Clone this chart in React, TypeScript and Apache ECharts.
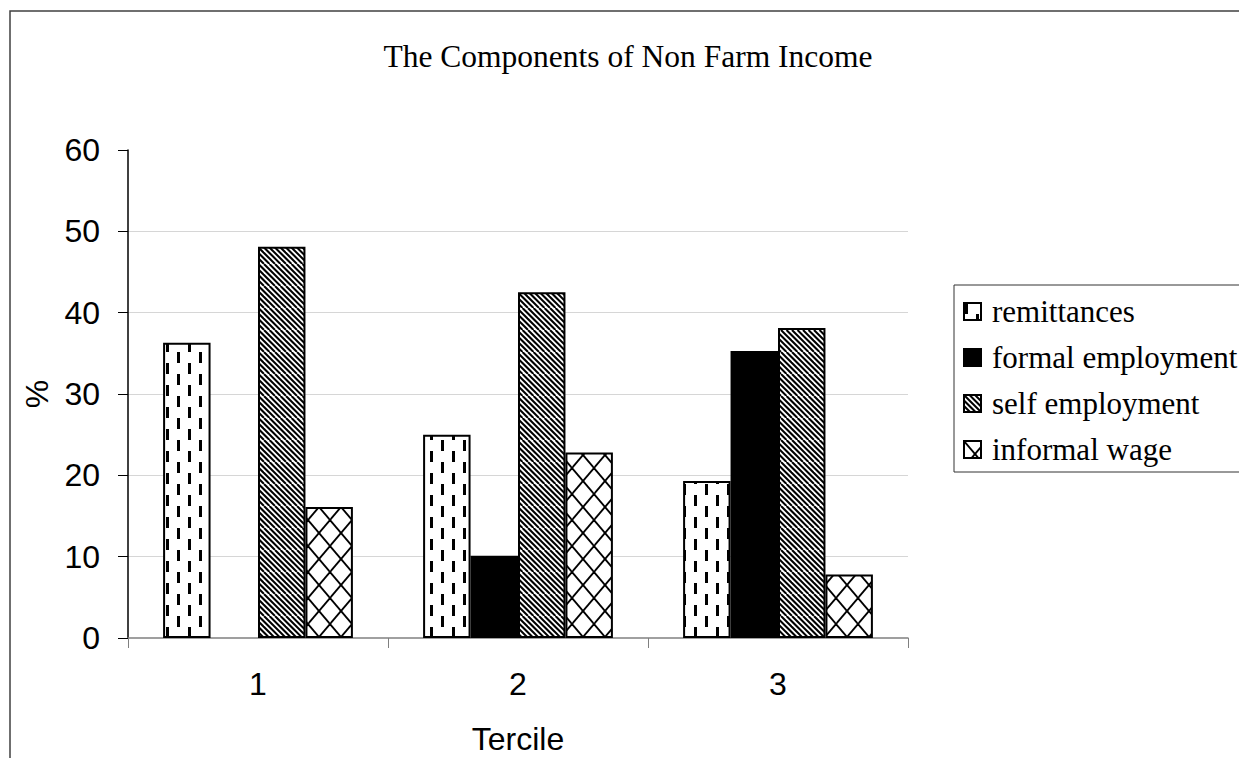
import React, { useEffect, useRef } from "react";
import * as echarts from "echarts";

// Chart data
const terciles = ["1", "2", "3"];
const seriesNames = ["remittances", "formal employment", "self employment", "informal wage"];
const remittances = [36.3, 25.0, 19.3];
const formalEmployment = [0, 10.1, 35.3];
const selfEmployment = [48.1, 42.5, 38.1];
const informalWage = [16.1, 22.8, 7.8];
const yTicks = { min: 0, max: 60, interval: 10 };

const SERIF = "'Liberation Serif', 'Times New Roman', serif";
const SANS = "'Liberation Sans', Arial, sans-serif";

type Ctx = CanvasRenderingContext2D;

// Build a repeating black-on-white fill tile
function makePattern(draw: (ctx: Ctx) => void, w = 22, h = 22) {
  const c = document.createElement("canvas");
  c.width = w;
  c.height = h;
  const ctx = c.getContext("2d") as Ctx;
  ctx.fillStyle = "#fff";
  ctx.fillRect(0, 0, w, h);
  ctx.fillStyle = "#000";
  ctx.strokeStyle = "#000";
  draw(ctx);
  return { image: c, repeat: "repeat" as const };
}

function dashedVertical() {
  return makePattern((ctx) => {
    ctx.fillRect(1, 0, 3, 11);
    ctx.fillRect(12, 11, 3, 11);
  });
}

function downwardDiagonal() {
  return makePattern((ctx) => {
    ctx.lineWidth = 2;
    for (let k = -5; k <= 5; k++) {
      const o = k * 5.5;
      ctx.beginPath();
      ctx.moveTo(o, 0);
      ctx.lineTo(o + 22, 22);
      ctx.stroke();
    }
  });
}

function outlinedDiamond() {
  const w = 22;
  const h = 26;
  return makePattern(
    (ctx) => {
      ctx.lineWidth = 1.8;
      for (const o of [-w, 0, w]) {
        ctx.beginPath();
        ctx.moveTo(o, 0);
        ctx.lineTo(o + w, h);
        ctx.stroke();
        ctx.beginPath();
        ctx.moveTo(o, h);
        ctx.lineTo(o + w, 0);
        ctx.stroke();
      }
    },
    w,
    h
  );
}

export default function App() {
  const ref = useRef<HTMLDivElement>(null);

  useEffect(() => {
    if (!ref.current) return;
    const chart = echarts.init(ref.current, undefined, { renderer: "svg" });

    const fills: any[] = [dashedVertical(), "#000", downwardDiagonal(), outlinedDiamond()];
    const values = [remittances, formalEmployment, selfEmployment, informalWage];

    const series = seriesNames.map((name, i) => ({
      name,
      type: "bar",
      barGap: "0%",
      barCategoryGap: "27%",
      itemStyle: { color: fills[i], borderColor: "#000", borderWidth: 2 },
      emphasis: { disabled: true },
      data: values[i].map((v) => (v === 0 ? { value: v, itemStyle: { borderWidth: 0 } } : v)),
    }));

    chart.setOption({
      animation: false,
      backgroundColor: "#fff",
      title: {
        text: "The Components of Non Farm Income",
        left: 628,
        top: 40,
        padding: 0,
        textAlign: "center",
        textStyle: { fontFamily: SERIF, fontSize: 31.5, fontWeight: "normal", color: "#000" },
      },
      legend: {
        orient: "vertical",
        left: 954,
        top: 285,
        padding: [11, 30, 7, 9],
        itemGap: 15,
        itemWidth: 17,
        itemHeight: 17,
        icon: "rect",
        borderColor: "#333",
        borderWidth: 1,
        selectedMode: false,
        data: seriesNames,
        textStyle: { fontFamily: SERIF, fontSize: 31, color: "#000", padding: [0, 0, 0, 6] },
      },
      grid: { left: 128, right: 331, top: 150, bottom: 120, containLabel: false, outerBoundsMode: "none" },
      xAxis: {
        type: "category",
        data: terciles,
        boundaryGap: true,
        name: "Tercile",
        nameLocation: "middle",
        nameGap: 85,
        nameMoveOverlap: false,
        nameTextStyle: { fontFamily: SANS, fontSize: 32, color: "#000" },
        axisLine: { show: true, lineStyle: { color: "#808080", width: 1.5 } },
        axisTick: { show: true, inside: false, length: 10, lineStyle: { color: "#808080", width: 1 } },
        axisLabel: { margin: 30, fontFamily: SANS, fontSize: 32, color: "#000" },
        splitLine: { show: false },
      },
      yAxis: {
        type: "value",
        min: yTicks.min,
        max: yTicks.max,
        interval: yTicks.interval,
        name: "%",
        nameLocation: "middle",
        nameRotate: 90,
        nameGap: 75,
        nameMoveOverlap: false,
        nameTextStyle: { fontFamily: SANS, fontSize: 32, color: "#000" },
        axisLine: { show: true, lineStyle: { color: "#000", width: 1.5 } },
        axisTick: { show: true, inside: false, length: 10, lineStyle: { color: "#000", width: 1 } },
        axisLabel: { margin: 28, fontFamily: SANS, fontSize: 32, color: "#000" },
        splitLine: {
          show: true,
          showMinLine: false,
          showMaxLine: false,
          lineStyle: { color: "#d6d6d6", width: 1 },
        },
      },
      graphic: [
        {
          type: "rect",
          silent: true,
          z: -10,
          shape: { x: 10, y: 11, width: 1300, height: 800 },
          style: { fill: "transparent", stroke: "#404040", lineWidth: 1.5 },
        },
      ],
      series,
    });

    return () => chart.dispose();
  }, []);

  return (
    <div
      ref={ref}
      style={{ position: "absolute", left: 0, top: 0, width: 1239, height: 758 }}
    />
  );
}
